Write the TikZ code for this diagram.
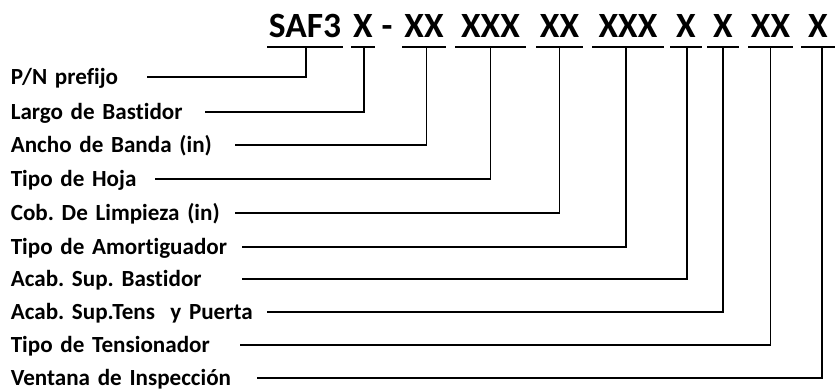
\documentclass[tikz,border=0pt]{standalone}
\usepackage{fontspec}
\setmainfont{Carlito}[Ligatures=NoCommon]
\frenchspacing

\begin{document}
\begin{tikzpicture}[x=1pt, y=-1pt, line width=1.6pt,
  code/.style = {font=\fontsize{35.5}{40}\selectfont\bfseries, inner sep=0, text height=25pt, text depth=9pt, anchor=base},
  lbl/.style = {font=\fontsize{23.1}{27}\selectfont\bfseries, inner sep=0, text height=16.5pt, text depth=1.5pt, anchor=west, align=left}]
\useasboundingbox (0,0) rectangle (835,390);

% part number
\node[code, minimum width=74pt] (saf) at (305,37.5) {SAF3};
\node[code, minimum width=22pt] (x1) at (363,37.5) {X};
\node[code] (dash) at (387,37.5) {-};
\node[code, minimum width=42pt] (x2) at (424,37.5) {XX};
\node[code, minimum width=69pt] (x3) at (490.5,37.5) {XXX};
\node[code, minimum width=45pt] (x4) at (559.5,37.5) {XX};
\node[code, minimum width=70pt] (x5) at (628,37.5) {XXX};
\node[code, minimum width=30pt] (x6) at (686,37.5) {X};
\node[code, minimum width=30pt] (x7) at (723,37.5) {X};
\node[code, minimum width=43pt] (x8) at (770.5,37.5) {XX};
\node[code, minimum width=32pt] (x9) at (818,37.5) {X};
\foreach \n in {saf,x1,x2,x3,x4,x5,x6,x7,x8,x9}
  \draw (\n.south west) -- (\n.south east);

% labels
\node[lbl, text width=135pt] (pn) at (10,77) {P/N prefijo};
\node[lbl, text width=193pt] (largo) at (10,112) {Largo de Bastidor};
\node[lbl, text width=223pt] (ancho) at (10,145) {Ancho de Banda (in)};
\node[lbl, text width=143pt] (hoja) at (10,179) {Tipo de Hoja};
\node[lbl, text width=223pt] (cob) at (10,213) {Cob. De Limpieza (in)};
\node[lbl, text width=230pt] (amort) at (10,247) {Tipo de Amortiguador};
\node[lbl, text width=230pt] (bast) at (10,279) {Acab. Sup. Bastidor};
\node[lbl, text width=255pt] (tens) at (10,312) {Acab. Sup.Tens\ \ y Puerta};
\node[lbl, text width=228pt] (tensor) at (10,345) {Tipo de Tensionador};
\node[lbl, text width=245pt] (vent) at (10,378) {Ventana de Inspección};

\draw ([xshift=1pt]saf.south) |- (pn.east);
\draw ([xshift=1pt]x1.south) |- (largo.east);
\draw ([xshift=2.5pt]x2.south) |- (ancho.east);
\draw (x3.south) |- (hoja.east);
\draw (x4.south) |- (cob.east);
\draw ([xshift=-2pt]x5.south) |- (amort.east);
\draw ([xshift=1pt]x6.south) |- (bast.east);
\draw (x7.south) |- (tens.east);
\draw (x8.south) |- (tensor.east);
\draw ([xshift=4pt]x9.south) |- (vent.east);
\end{tikzpicture}
\end{document}
